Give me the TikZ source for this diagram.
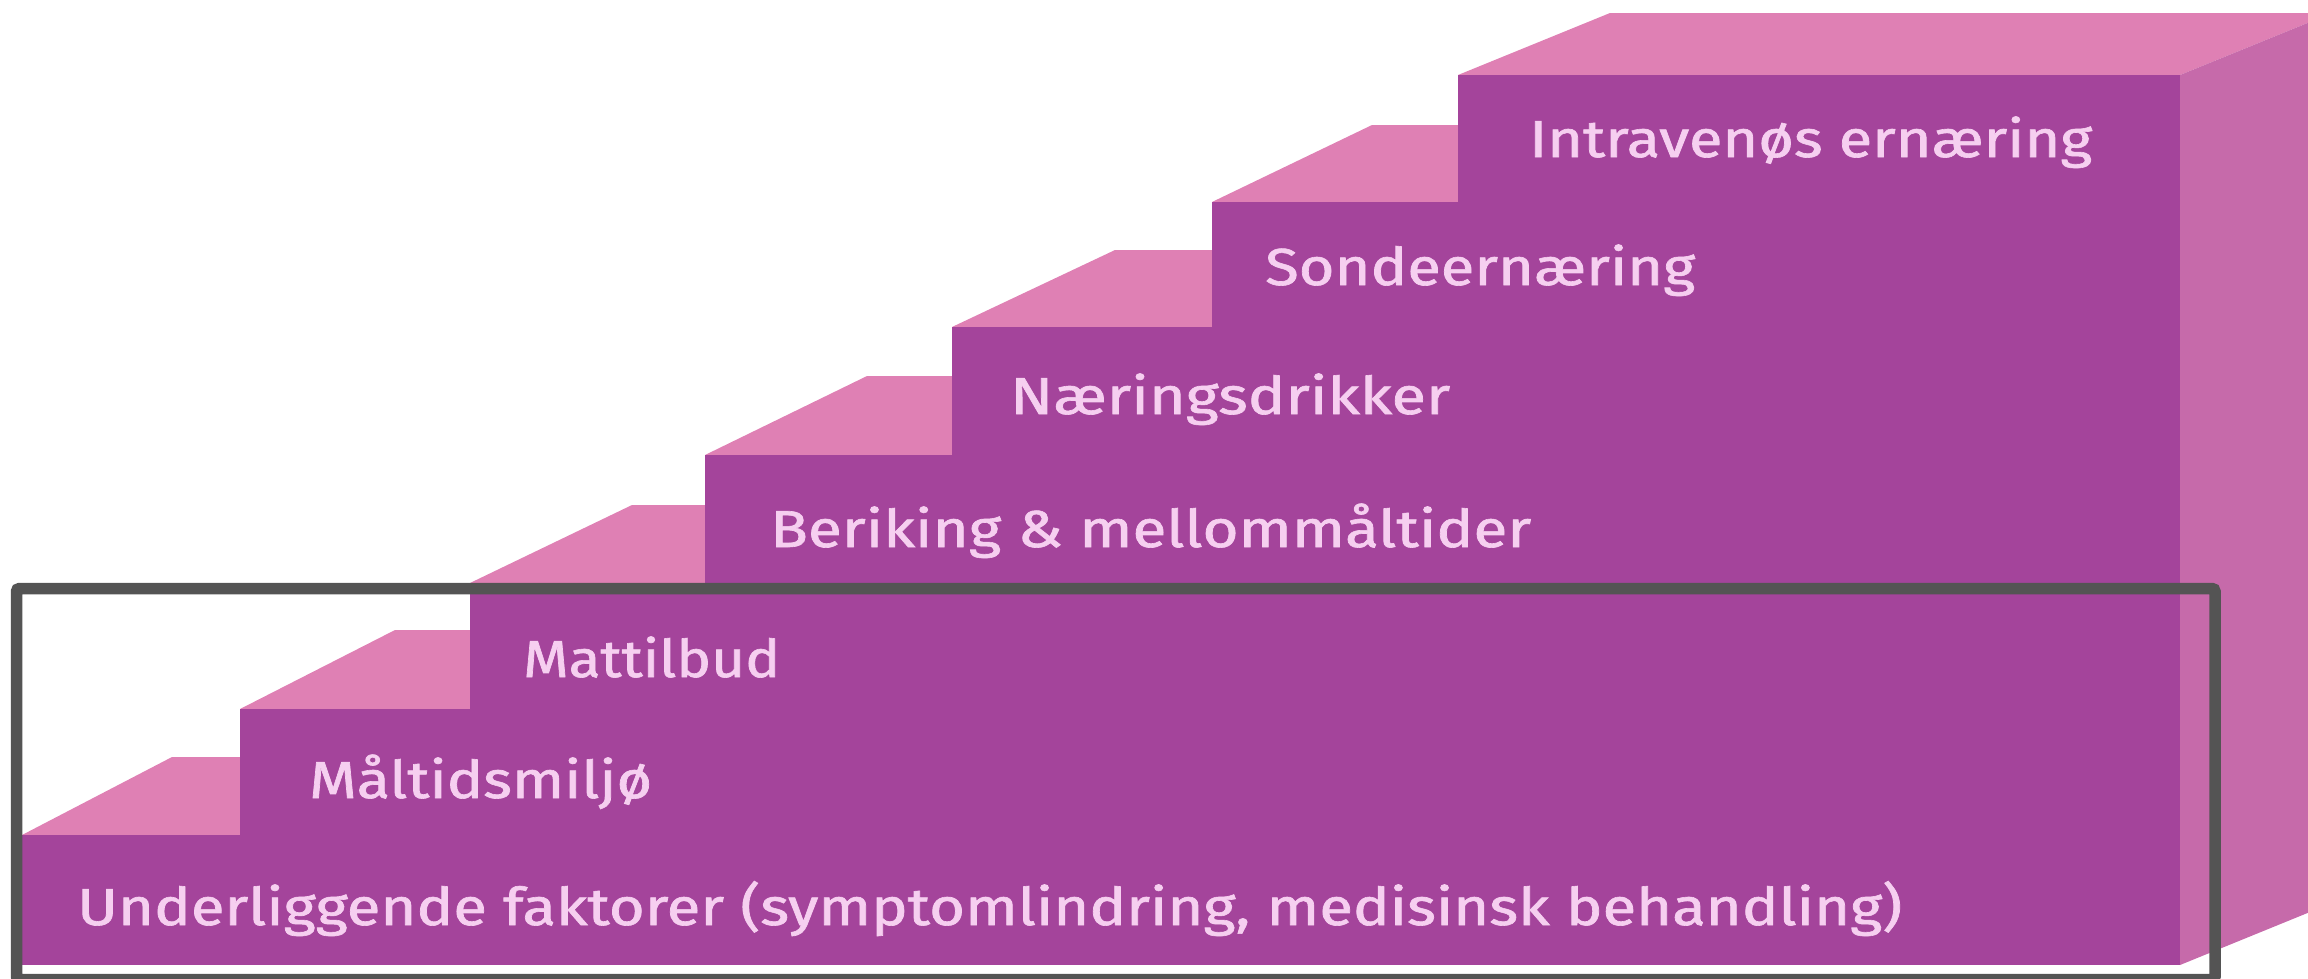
\documentclass[tikz,border=0pt]{standalone}
\usepackage{fontspec}
\usepackage{graphicx}
\setmainfont{Fira Sans}[FakeBold=1.2]
\definecolor{frontc}{HTML}{A4449B}
\definecolor{topc}{HTML}{DF80B4}
\definecolor{sidec}{HTML}{C66AAA}
\definecolor{txtc}{HTML}{F6CFF0}
\definecolor{framec}{HTML}{545454}
\newsavebox\fitbox
\newcommand\fitw[2]{\sbox\fitbox{#2}\pgfmathsetmacro\fitsx{#1/\wd\fitbox}\scalebox{\fitsx}[1]{\usebox\fitbox}}
\tikzset{
  frontface/.style={fill=frontc},
  topface/.style={fill=topc},
  sideface/.style={fill=sidec},
  lbl/.style={text=txtc, font=\fontsize{52}{60}\selectfont, inner sep=0pt, anchor=base west},
  framebox/.style={draw=framec, line width=11.5pt, rounded corners=3pt}
}
\begin{document}
\begin{tikzpicture}[x=1pt,y=-1pt]
\useasboundingbox (0,0) rectangle (2308,978);
% step 1
\fill[topface] (22,835) -- (172,757) -- (240,757) -- (240,835) -- cycle;
\fill[frontface] (22,835) rectangle (2180,965);
% step 2
\fill[topface] (240,709) -- (395,630) -- (470,630) -- (470,709) -- cycle;
\fill[frontface] (240,709) rectangle (2180,965);
% step 3
\fill[topface] (470,583) -- (632,505) -- (705,505) -- (705,583) -- cycle;
\fill[frontface] (470,583) rectangle (2180,965);
% step 4
\fill[topface] (705,455) -- (867,376) -- (952,376) -- (952,455) -- cycle;
\fill[frontface] (705,455) rectangle (2180,965);
% step 5
\fill[topface] (952,327) -- (1115,250) -- (1212,250) -- (1212,327) -- cycle;
\fill[frontface] (952,327) rectangle (2180,965);
% step 6
\fill[topface] (1212,202) -- (1372,125) -- (1458,125) -- (1458,202) -- cycle;
\fill[frontface] (1212,202) rectangle (2180,965);
% step 7
\fill[topface] (1458,75) -- (1610,13) -- (2332,13) -- (2180,75) -- cycle;
\fill[frontface] (1458,75) rectangle (2180,965);
% side face
\fill[sideface] (2180,75) -- (2332,13) -- (2332,903) -- (2180,965) -- cycle;
% labels
\node[lbl] (t1) at (77,925) {\fitw{1825}{Underliggende faktorer (symptomlindring, medisinsk behandling)}};
\node[lbl] (t2) at (309,798) {\fitw{343}{Måltidsmiljø}};
\node[lbl] (t3) at (523,677) {\fitw{257}{Mattilbud}};
\node[lbl] (t4) at (770,547) {\fitw{761}{Beriking \& mellommåltider}};
\node[lbl] (t5) at (1010,414) {\fitw{440}{Næringsdrikker}};
\node[lbl] (t6) at (1265,285) {\fitw{430}{Sondeernæring}};
\node[lbl] (t7) at (1529,157) {\fitw{563}{Intravenøs ernæring}};
% highlight frame
\draw[framebox] (16.5,588.5) rectangle (2215,979.5);
\end{tikzpicture}
\end{document}
